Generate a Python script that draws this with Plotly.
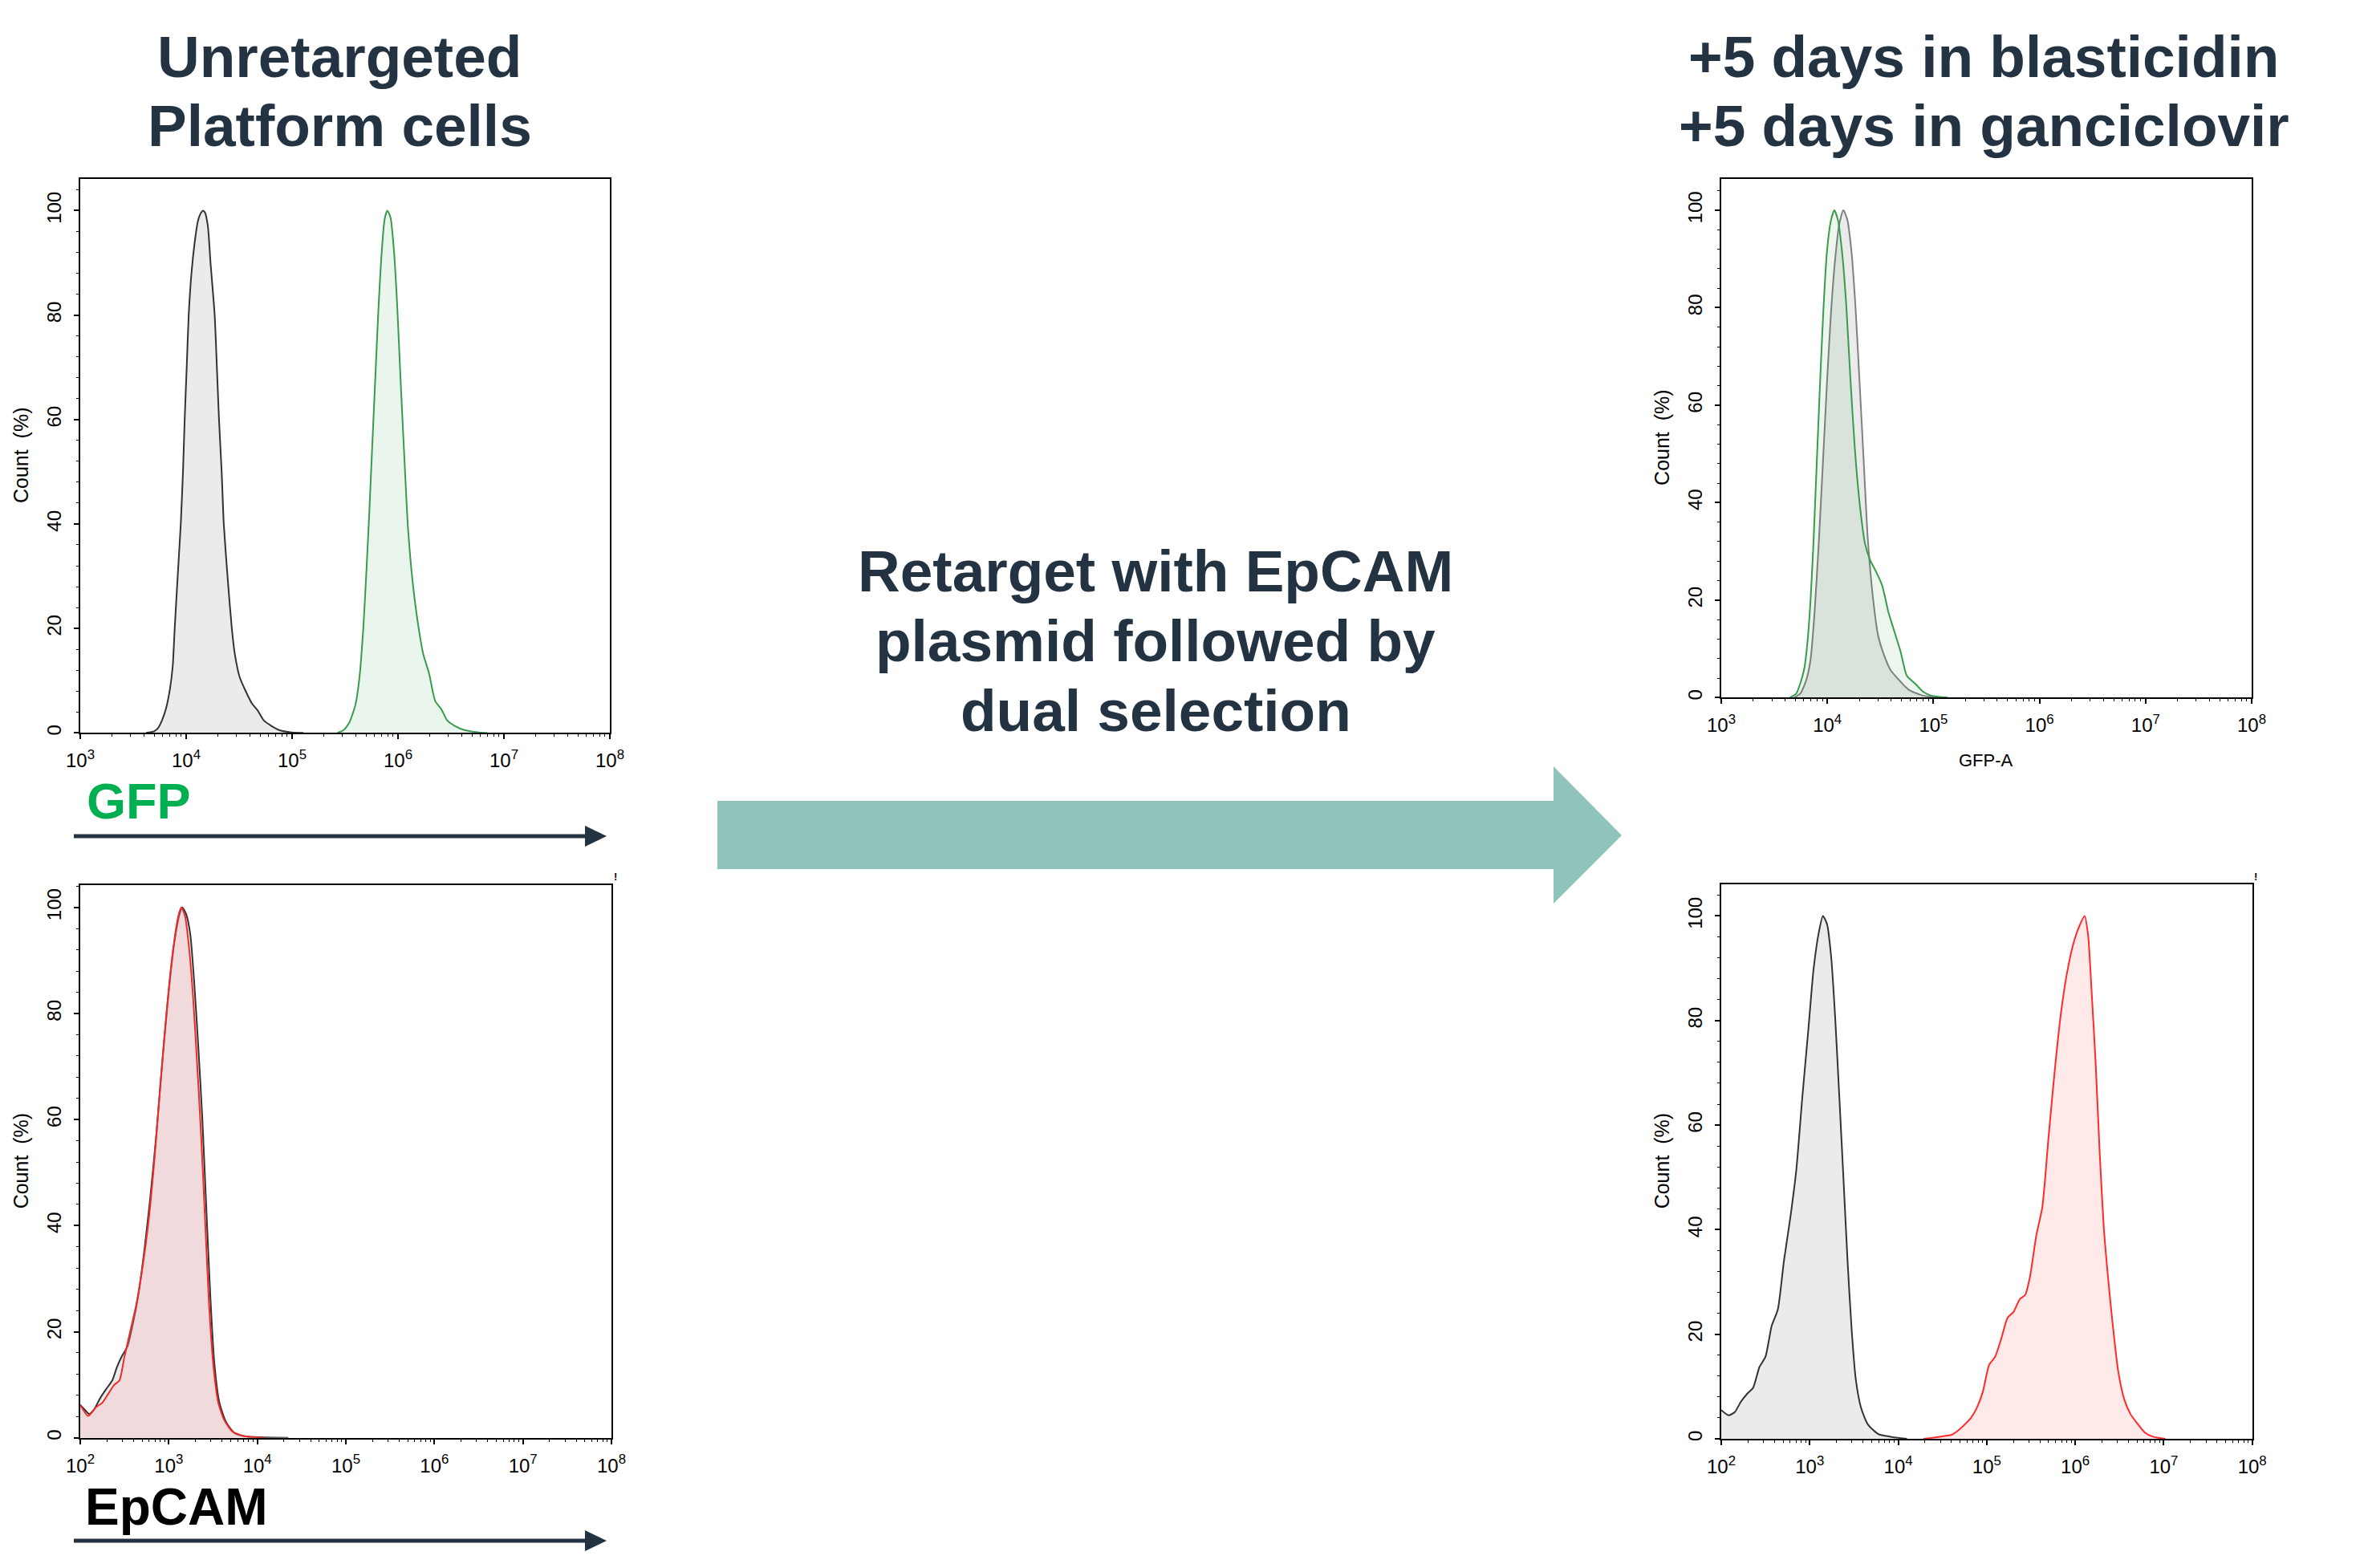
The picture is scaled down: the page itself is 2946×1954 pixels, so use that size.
import plotly.graph_objects as go

W, H = 2946, 1954

# ---------------- data (log10 of intensity, % of max count) ----------------
# Panel 1: GFP, unretargeted platform cells
p1_neg_log = [3.621, 3.697, 3.734, 3.772, 3.809, 3.847, 3.873, 3.892, 3.920, 3.949, 3.970, 3.986, 4.005,
              4.024, 4.050, 4.081, 4.111, 4.141, 4.160, 4.178, 4.205, 4.230, 4.269, 4.290, 4.310, 4.335,
              4.355, 4.394, 4.431, 4.460, 4.506, 4.562, 4.619, 4.675, 4.732, 4.807, 4.883, 4.995, 5.108]
p1_neg_pct = [0.0, 0.3, 0.9, 2.4, 4.6, 8.4, 12.8, 20.1, 30.0, 40.0, 50.0, 60.0, 70.0,
              80.0, 88.0, 94.0, 98.0, 99.6, 100.0, 99.6, 97.0, 90.0, 80.0, 70.0, 60.0, 50.0,
              40.0, 29.0, 20.0, 15.0, 10.6, 8.0, 5.7, 4.3, 2.4, 1.3, 0.5, 0.1, 0.0]
p1_gfp_log = [5.428, 5.485, 5.541, 5.598, 5.636, 5.673, 5.703, 5.730, 5.756, 5.786, 5.816, 5.843, 5.873,
              5.899, 5.929, 5.963, 5.993, 6.023, 6.057, 6.095, 6.144, 6.193, 6.238, 6.294, 6.351, 6.407,
              6.464, 6.539, 6.633, 6.765, 6.840]
p1_gfp_pct = [0.0, 0.5, 2.0, 5.4, 10.6, 20.3, 31.5, 42.7, 54.6, 68.1, 81.5, 91.2, 98.3,
              100.0, 98.7, 92.0, 81.5, 68.1, 53.9, 39.0, 27.8, 20.3, 15.1, 11.3, 6.1, 4.6,
              2.4, 1.3, 0.5, 0.1, 0.0]

# Panel 2: EpCAM, unretargeted platform cells
p2_ctrl_log = [2.000, 2.045, 2.099, 2.158, 2.226, 2.294, 2.362, 2.416, 2.474, 2.533, 2.587, 2.655, 2.723,
               2.791, 2.859, 2.926, 2.994, 3.062, 3.121, 3.152, 3.197, 3.243, 3.288, 3.333, 3.378, 3.423,
               3.469, 3.514, 3.572, 3.649, 3.740, 3.853, 4.033, 4.350]
p2_ctrl_pct = [6.2, 5.4, 4.5, 5.4, 7.5, 9.2, 10.8, 13.4, 15.5, 17.2, 20.9, 26.8, 35.2,
               45.3, 57.1, 70.6, 83.2, 93.3, 98.7, 100.0, 98.7, 94.9, 85.7, 73.9, 60.5, 43.7,
               26.8, 14.2, 6.6, 2.9, 0.9, 0.3, 0.1, 0.0]
p2_epcam_log = [2.000, 2.090, 2.181, 2.249, 2.317, 2.384, 2.443, 2.497, 2.565, 2.633, 2.700, 2.768, 2.836,
                2.904, 2.972, 3.039, 3.107, 3.143, 3.184, 3.229, 3.274, 3.320, 3.365, 3.410, 3.455, 3.505,
                3.559, 3.627, 3.717, 3.853, 4.080]
p2_epcam_pct = [6.2, 4.1, 5.8, 6.6, 8.3, 10.0, 10.8, 15.1, 20.1, 25.1, 31.8, 40.3, 52.1,
                66.4, 79.8, 90.8, 98.3, 100.0, 98.3, 92.4, 83.2, 70.6, 57.1, 41.1, 25.1, 13.4,
                6.6, 3.3, 1.2, 0.3, 0.0]

# Panel 3: GFP after blasticidin + ganciclovir
p3_neg_log = [3.687, 3.745, 3.803, 3.842, 3.880, 3.919, 3.958, 3.996, 4.035, 4.073, 4.112, 4.151, 4.189,
              4.228, 4.266, 4.305, 4.344, 4.382, 4.432, 4.479, 4.537, 4.595, 4.672, 4.768, 4.903, 5.058]
p3_neg_pct = [0.0, 0.8, 3.7, 7.8, 17.6, 31.6, 48.0, 64.3, 79.1, 89.8, 97.1, 100.0, 98.0,
              91.4, 79.9, 64.3, 48.0, 32.4, 20.1, 12.7, 8.6, 5.7, 3.7, 1.6, 0.4, 0.0]
p3_gfp_log = [3.649, 3.707, 3.745, 3.784, 3.815, 3.842, 3.869, 3.900, 3.931, 3.962, 3.996, 4.035, 4.066,
              4.100, 4.139, 4.178, 4.216, 4.259, 4.305, 4.355, 4.402, 4.460, 4.517, 4.575, 4.633, 4.691,
              4.749, 4.826, 4.903, 4.981, 5.135]
p3_gfp_pct = [0.0, 0.8, 2.9, 6.1, 11.9, 20.1, 31.6, 48.0, 64.3, 79.1, 91.4, 98.0, 100.0,
              98.0, 91.4, 80.7, 66.0, 51.2, 39.8, 31.6, 28.3, 25.8, 23.0, 17.6, 13.5, 9.4,
              4.5, 2.9, 1.2, 0.4, 0.0]

# Panel 4: EpCAM after blasticidin + ganciclovir
p4_ctrl_log = [2.000, 2.083, 2.153, 2.222, 2.292, 2.361, 2.431, 2.500, 2.570, 2.639, 2.709, 2.778, 2.848,
               2.917, 2.987, 3.043, 3.103, 3.149, 3.196, 3.242, 3.288, 3.334, 3.381, 3.427, 3.474, 3.520,
               3.580, 3.659, 3.775, 3.914, 4.099]
p4_ctrl_pct = [5.5, 4.5, 5.1, 7.1, 8.6, 9.8, 13.7, 15.7, 21.6, 24.7, 34.1, 42.0, 51.4,
               65.5, 78.8, 89.8, 96.9, 100.0, 98.4, 92.2, 80.4, 65.5, 49.8, 34.1, 20.8, 11.4,
               5.9, 2.7, 0.9, 0.4, 0.0]
p4_epcam_log = [4.284, 4.470, 4.609, 4.678, 4.748, 4.817, 4.887, 4.956, 5.026, 5.095, 5.165, 5.234, 5.304,
                5.373, 5.434, 5.489, 5.559, 5.628, 5.698, 5.767, 5.837, 5.906, 5.976, 6.045, 6.106, 6.147,
                6.184, 6.231, 6.277, 6.323, 6.370, 6.416, 6.486, 6.555, 6.625, 6.694, 6.787, 6.879, 7.018]
p4_epcam_pct = [0.0, 0.4, 0.8, 1.6, 2.7, 3.9, 5.9, 9.0, 14.1, 15.7, 19.2, 23.1, 24.3,
                26.7, 27.5, 31.0, 38.8, 44.3, 57.6, 70.2, 81.2, 89.0, 94.5, 98.0, 100.0, 96.1,
                85.9, 71.8, 54.5, 40.4, 31.0, 23.1, 12.9, 7.5, 4.7, 3.1, 1.2, 0.4, 0.0]

decades_34 = [3, 4, 5, 6, 7, 8]
decades_28 = [2, 3, 4, 5, 6, 7, 8]
y_ticks = [0, 20, 40, 60, 80, 100]

title_left = ["Unretargeted", "Platform cells"]
title_right = ["+5 days in blasticidin", "+5 days in ganciclovir"]
middle_text = ["Retarget with EpCAM", "plasmid followed by", "dual selection"]

NAVY = "#243342"
FONT = "Liberation Sans, Arial, sans-serif"


def X(p):
    return p / W


def Y(p):
    return 1 - p / H


fig = go.Figure()


def add_curve(lg, pct, ax, line_color, fill_color, width=2):
    fig.add_trace(go.Scatter(
        x=[10 ** v for v in lg], y=pct, xaxis="x" + ax, yaxis="y" + ax,
        mode="lines", line=dict(color=line_color, width=width, shape="spline", smoothing=0.6),
        fill="tozeroy", fillcolor=fill_color, showlegend=False, hoverinfo="skip"))


GRAY_FILL = "rgba(0,0,0,0.08)"
add_curve(p1_neg_log, p1_neg_pct, "", "#333333", GRAY_FILL)
add_curve(p1_gfp_log, p1_gfp_pct, "", "#3a9a4e", "rgba(40,160,80,0.10)")
add_curve(p2_ctrl_log, p2_ctrl_pct, "2", "#333333", GRAY_FILL)
add_curve(p2_epcam_log, p2_epcam_pct, "2", "#ee2a2a", "rgba(255,175,182,0.28)")
add_curve(p3_neg_log, p3_neg_pct, "3", "#808080", GRAY_FILL)
add_curve(p3_gfp_log, p3_gfp_pct, "3", "#3a9a4e", "rgba(40,160,80,0.09)")
add_curve(p4_ctrl_log, p4_ctrl_pct, "4", "#333333", GRAY_FILL)
add_curve(p4_epcam_log, p4_epcam_pct, "4", "#ff2a2a", "rgba(255,0,0,0.085)")

tickfont = dict(family=FONT, size=24, color="black")


def xaxis_cfg(dom, decs, anchor):
    minor_vals = [k * 10 ** d for d in decs[:-1] for k in range(2, 10)]
    return dict(
        type="log", range=[decs[0], decs[-1]], domain=[X(dom[0]), X(dom[1])], anchor=anchor,
        automargin=False,
        tickmode="array", tickvals=[10 ** d for d in decs],
        ticktext=["10<sup>%d</sup>" % d for d in decs],
        ticks="outside", ticklen=6, tickwidth=1.5, tickcolor="black",
        minor=dict(tickmode="array", tickvals=minor_vals, ticks="outside", ticklen=3,
                   tickwidth=1, tickcolor="black", showgrid=False),
        showline=True, linecolor="black", linewidth=2, mirror=True,
        showgrid=False, zeroline=False, tickfont=tickfont, ticklabelstandoff=6)


def yaxis_cfg(dom, top, anchor):
    return dict(
        range=[0, top], domain=[Y(dom[1]), Y(dom[0])], anchor=anchor,
        automargin=False,
        tickmode="array", tickvals=y_ticks, tickangle=-90,
        ticks="outside", ticklen=6, tickwidth=1.5, tickcolor="black",
        minor=dict(dtick=4, ticks="outside", ticklen=3, tickwidth=1, tickcolor="black", showgrid=False),
        showline=True, linecolor="black", linewidth=2, mirror=True,
        showgrid=False, zeroline=False, tickfont=tickfont, ticklabelstandoff=6)


P1 = dict(x=(100, 760), y=(222.7, 913.3))
P2 = dict(x=(100, 762), y=(1103, 1791.7))
P3 = dict(x=(2145, 2806), y=(222.5, 869.3))
P4 = dict(x=(2145, 2806.7), y=(1101.7, 1793))

fig.update_layout(
    width=W, height=H, autosize=False, margin=dict(l=0, r=0, t=0, b=0, pad=0),
    paper_bgcolor="white", plot_bgcolor="white",
    xaxis=xaxis_cfg(P1["x"], decades_34, "y"), yaxis=yaxis_cfg(P1["y"], 106.1, "x"),
    xaxis2=xaxis_cfg(P2["x"], decades_28, "y2"), yaxis2=yaxis_cfg(P2["y"], 104.2, "x2"),
    xaxis3=xaxis_cfg(P3["x"], decades_34, "y3"), yaxis3=yaxis_cfg(P3["y"], 106.5, "x3"),
    xaxis4=xaxis_cfg(P4["x"], decades_28, "y4"), yaxis4=yaxis_cfg(P4["y"], 106.1, "x4"),
)

ann = []


def text(t, x, y, size, color=NAVY, bold=True, xanchor="center", angle=0):
    ann.append(dict(text=t, x=X(x), y=Y(y), xref="paper", yref="paper", showarrow=False,
                    xanchor=xanchor, yanchor="middle", textangle=angle,
                    font=dict(family=FONT, size=size, color=color, weight="bold" if bold else "normal")))


# titles (baseline -> center: b - 0.3465*fs)
for i, b in enumerate([96, 182]):
    text(title_left[i], 423, b - 25.3, 73)
    text(title_right[i], 2472, b - 25.3, 73)
for i, b in enumerate([737, 824, 911]):
    text(middle_text[i], 1440, b - 25.3, 73)

text("GFP", 106, 1019.5 - 21.8, 63, color="#00b050", xanchor="left")
text("EpCAM", 104, 1900 - 22.2, 64, color="black", xanchor="left")
text("GFP-A", 2475, 947, 22, color="black", bold=False)

for p in (P1, P2, P3, P4):
    cy = (p["y"][0] + p["y"][1]) / 2
    text("Count\u00a0\u00a0(%)", p["x"][0] - 74, cy, 25, color="black", bold=False, angle=-90)

# small marks at top-right corners of bottom panels
text("!", P2["x"][1] + 5, 1092, 13, color="black", bold=True)
text("!", P4["x"][1] + 4, 1092, 13, color="black", bold=True)

fig.update_layout(annotations=ann)

shapes = []


def path(pts, color):
    d = "M " + " L ".join("%.5f,%.5f" % (X(a), Y(b)) for a, b in pts) + " Z"
    shapes.append(dict(type="path", path=d, xref="paper", yref="paper",
                       fillcolor=color, line=dict(width=0)))


# big teal process arrow
path([(894, 998), (1936, 998), (1936, 955), (2021, 1041), (1936, 1126), (1936, 1083), (894, 1083)], "#91c3bd")

# axis-direction arrows under left panels
for yy in (1042, 1920):
    shapes.append(dict(type="line", xref="paper", yref="paper", x0=X(92), x1=X(735), y0=Y(yy), y1=Y(yy),
                       line=dict(color=NAVY, width=5)))
    path([(729, yy - 13), (756, yy), (729, yy + 13)], NAVY)

fig.update_layout(shapes=shapes)

fig.write_html("out.html")
